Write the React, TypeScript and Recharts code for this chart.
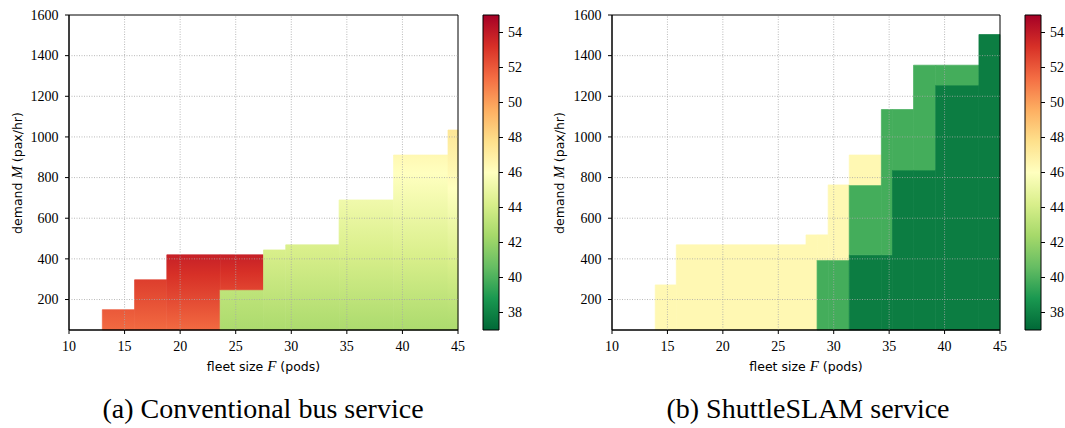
import React from "react"
import { ComposedChart, XAxis, YAxis, ReferenceArea, ReferenceLine } from "recharts"

// RdYlGn colormap, reversed (low cost = green), cost range of the colorbar
const RDYLGN = ["#a50026", "#d73027", "#f46d43", "#fdae61", "#fee08b", "#ffffbf", "#d9ef8b", "#a6d96a", "#66bd63", "#1a9850", "#006837"]
const COST_MIN = 37
const COST_MAX = 55

const fleetTicks = [10, 15, 20, 25, 30, 35, 40, 45]
const demandTicks = [200, 400, 600, 800, 1000, 1200, 1400, 1600]
const costTicks = [38, 40, 42, 44, 46, 48, 50, 52, 54]
const M_BASE = 50

// (a) conventional bus: blocks in F, demand range, cost at bottom / top of block
const convF0 = [13, 15.9, 18.8, 23.6, 23.6, 27.5, 29.5, 34.3, 39.2, 44.1]
const convF1 = [15.9, 18.8, 23.6, 27.5, 27.5, 29.5, 34.3, 39.2, 44.1, 45]
const convM0 = [50, 50, 50, 50, 248, 50, 50, 50, 50, 50]
const convM1 = [150, 297, 420, 248, 420, 444, 469, 690, 911, 1034]
const convC0 = [51.5, 51.5, 51.5, 42.6, 52.6, 42.6, 42.6, 42.6, 42.6, 42.6]
const convC1 = [52.0, 52.8, 53.8, 43.3, 53.8, 44.2, 44.3, 45.3, 46.4, 47.4]

// (b) ShuttleSLAM: columns with stacked cost levels (0 = level absent)
const shuttleEdges = [13.9, 15.8, 27.5, 28.5, 29.5, 31.4, 34.3, 35.3, 37.2, 39.2, 43.1, 45]
const shuttleDarkTop = [0, 0, 0, 0, 0, 420, 420, 837, 837, 1255, 1504]
const shuttleMidTop = [0, 0, 0, 395, 395, 764, 1135, 1135, 1353, 1353, 0]
const shuttleLightTop = [272, 469, 518, 518, 764, 911, 0, 0, 0, 0, 0]
const shuttleCost = [37.8, 39.8, 46.4] // dark, mid, light

const SERIF = "'Liberation Serif', 'DejaVu Serif', serif"
const SANS = "'DejaVu Sans', sans-serif"

function hexToRgb(h: string) {
  return [1, 3, 5].map((i) => parseInt(h.slice(i, i + 2), 16))
}

function cmap(v: number) {
  const t = Math.min(1, Math.max(0, (v - COST_MIN) / (COST_MAX - COST_MIN)))
  const pos = (1 - t) * (RDYLGN.length - 1)
  const i = Math.min(RDYLGN.length - 2, Math.floor(pos))
  const f = pos - i
  const a = hexToRgb(RDYLGN[i])
  const b = hexToRgb(RDYLGN[i + 1])
  const c = a.map((x, k) => Math.round(x + (b[k] - x) * f))
  return `rgb(${c[0]},${c[1]},${c[2]})`
}

type Block = { f0: number; f1: number; m0: number; m1: number; c0: number; c1: number }

function gradStops(c0: number, c1: number) {
  if (c0 === c1) return [{ offset: 0, color: cmap(c0) }, { offset: 1, color: cmap(c0) }]
  const nodes = RDYLGN.map((_, i) => COST_MAX - (i * (COST_MAX - COST_MIN)) / (RDYLGN.length - 1))
  const vals = [c1, ...nodes.filter((n) => n < c1 && n > c0), c0]
  return vals.map((v) => ({ offset: (c1 - v) / (c1 - c0), color: cmap(v) }))
}

const convBlocks: Block[] = convF0.map((f0, i) => ({ f0, f1: convF1[i], m0: convM0[i], m1: convM1[i], c0: convC0[i], c1: convC1[i] }))

const shuttleBlocks: Block[] = []
shuttleEdges.slice(0, -1).forEach((f0, i) => {
  const f1 = shuttleEdges[i + 1]
  let base = M_BASE
  const tops = [shuttleDarkTop[i], shuttleMidTop[i], shuttleLightTop[i]]
  tops.forEach((top, k) => {
    if (top > 0) {
      shuttleBlocks.push({ f0, f1, m0: base, m1: top, c0: shuttleCost[k], c1: shuttleCost[k] })
      base = top
    }
  })
})

const serifTick = (side: "bottom" | "left" | "right") => (p: any) => {
  const anchor = side === "bottom" ? "middle" : side === "left" ? "end" : "start"
  const dy = side === "bottom" ? "1.05em" : "0.34em"
  const dx = side === "left" ? -4.5 : side === "right" ? 3 : 0
  return (
    <text x={p.x} y={p.y} dx={dx} dy={dy} textAnchor={anchor} fill="#000" fontSize={14} fontFamily={SERIF}>
      {p.payload.value}
    </text>
  )
}

function HeatPanel({ id, blocks, left, right }: { id: string; blocks: Block[]; left: number; right: number }) {
  return (
    <div style={{ position: "absolute", left, top: 0 }}>
      <ComposedChart width={470} height={380} margin={{ top: 15, right, bottom: 20, left: 19 }} data={[]}>
        <defs>
          {blocks.map((b, i) => (
            <linearGradient key={i} id={`${id}-g${i}`} x1="0" y1="0" x2="0" y2="1">
              {gradStops(b.c0, b.c1).map((s, j) => (
                <stop key={j} offset={s.offset} stopColor={s.color} />
              ))}
            </linearGradient>
          ))}
        </defs>
        <XAxis type="number" dataKey="f" domain={[10, 45]} ticks={fleetTicks} allowDataOverflow height={30}
          tick={serifTick("bottom")} tickSize={4} tickLine={{ stroke: "#000" }} axisLine={{ stroke: "#000" }} interval={0} />
        <YAxis type="number" dataKey="m" domain={[M_BASE, 1600]} ticks={demandTicks} allowDataOverflow width={50}
          tick={serifTick("left")} tickSize={4} tickLine={{ stroke: "#000" }} axisLine={{ stroke: "#000" }} interval={0} />
        {blocks.map((b, i) => (
          <ReferenceArea key={i} x1={b.f0} x2={b.f1} y1={b.m0} y2={b.m1} fill={`url(#${id}-g${i})`} fillOpacity={1}
            stroke={`url(#${id}-g${i})`} strokeWidth={0.7} />
        ))}
        {fleetTicks.slice(1, -1).map((f) => (
          <ReferenceLine key={`x${f}`} x={f} stroke="#a8a8a8" strokeWidth={0.8} strokeDasharray="1 1.5" />
        ))}
        {demandTicks.slice(0, -1).map((m) => (
          <ReferenceLine key={`y${m}`} y={m} stroke="#a8a8a8" strokeWidth={0.8} strokeDasharray="1 1.5" />
        ))}
        <ReferenceArea x1={10} x2={45} y1={M_BASE} y2={1600} fill="none" stroke="#000" strokeWidth={1} />
      </ComposedChart>
    </div>
  )
}

function ColorBar({ id, left }: { id: string; left: number }) {
  const stops = gradStops(COST_MIN, COST_MAX)
  return (
    <div style={{ position: "absolute", left, top: 0 }}>
      <ComposedChart width={102} height={380} margin={{ top: 15, right: 0, bottom: 50, left: 56 }} data={[]}>
        <defs>
          <linearGradient id={`${id}-cb`} x1="0" y1="0" x2="0" y2="1">
            {stops.map((s, j) => (
              <stop key={j} offset={s.offset} stopColor={s.color} />
            ))}
          </linearGradient>
        </defs>
        <XAxis type="number" dataKey="x" domain={[0, 1]} hide allowDataOverflow />
        <YAxis type="number" dataKey="c" orientation="right" domain={[COST_MIN, COST_MAX]} ticks={costTicks} allowDataOverflow
          width={30} tick={serifTick("right")} tickSize={4} tickLine={{ stroke: "#000" }} axisLine={false} interval={0} />
        <ReferenceArea x1={0} x2={1} y1={COST_MIN} y2={COST_MAX} fill={`url(#${id}-cb)`} fillOpacity={1} stroke="#000" strokeWidth={1} />
      </ComposedChart>
    </div>
  )
}

function AxisLabels({ cx }: { cx: number }) {
  return (
    <>
      <div style={{ position: "absolute", left: cx, top: 366, transform: "translate(-50%,-50%)", whiteSpace: "nowrap", fontFamily: SANS, fontSize: 12.5 }}>
        fleet size <span style={{ fontFamily: SERIF, fontStyle: "italic", fontSize: 15 }}>F</span> (pods)
      </div>
      <div style={{ position: "absolute", left: cx - 247, top: 173, transform: "translate(-50%,-50%) rotate(-90deg)", whiteSpace: "nowrap", fontFamily: SANS, fontSize: 12.5 }}>
        demand <span style={{ fontFamily: SERIF, fontStyle: "italic", fontSize: 15 }}>M</span> (pax/hr)
      </div>
    </>
  )
}

const captionStyle: React.CSSProperties = { position: "absolute", top: 409, transform: "translate(-50%,-50%)", whiteSpace: "nowrap", fontFamily: SERIF, fontSize: 28 }

export default function App() {
  return (
    <div style={{ position: "absolute", left: 0, top: 0, width: 1065, height: 428, background: "#fff", overflow: "hidden" }}>
      <HeatPanel id="conv" blocks={convBlocks} left={0} right={12} />
      <ColorBar id="conv" left={427} />
      <HeatPanel id="shuttle" blocks={shuttleBlocks} left={543} right={13} />
      <ColorBar id="shuttle" left={969} />
      <AxisLabels cx={263.5} />
      <AxisLabels cx={806} />
      <div style={{ ...captionStyle, left: 263 }}>(a) Conventional bus service</div>
      <div style={{ ...captionStyle, left: 808 }}>(b) ShuttleSLAM service</div>
    </div>
  )
}
